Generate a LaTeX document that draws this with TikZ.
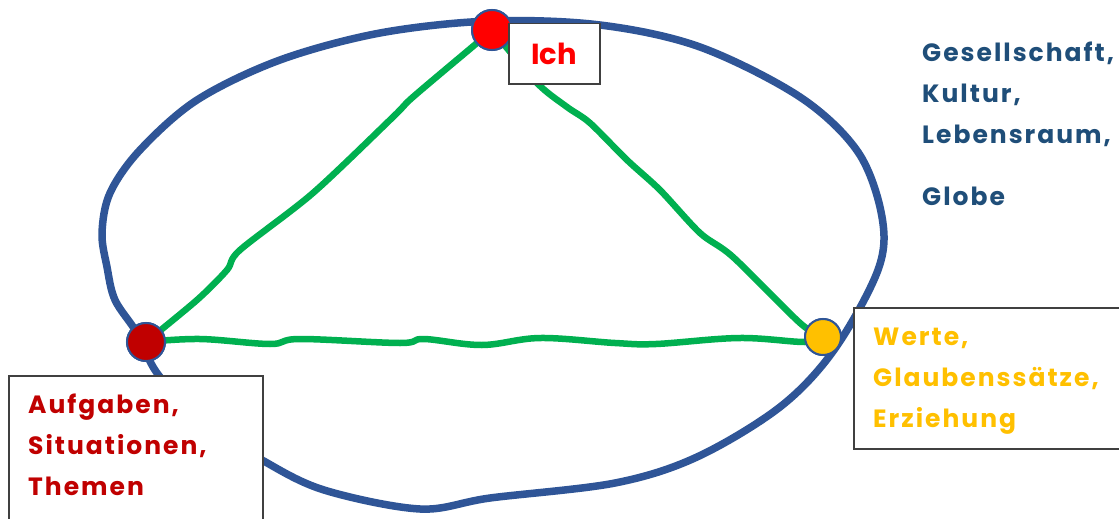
\documentclass[tikz,border=0pt]{standalone}
\usepackage{fontspec}
\setmainfont{Poppins}
\newfontfamily\spacedfont{Poppins}[LetterSpace=8]
\definecolor{ellblue}{HTML}{2F5597}
\definecolor{grn}{HTML}{00B050}
\definecolor{ichred}{HTML}{FF0000}
\definecolor{darkred}{HTML}{C00000}
\definecolor{gold}{HTML}{FFC000}
\definecolor{navy}{HTML}{1F4E79}
\definecolor{boxgray}{HTML}{404040}
\begin{document}
\begin{tikzpicture}[x=1pt,y=-1pt,
  ring/.style={draw=ellblue, line width=7.5pt, line join=round},
  link/.style={draw=grn, line width=6.5pt, line cap=round, line join=round},
  dot/.style={circle, draw=ellblue, line width=2pt, inner sep=0pt},
  labelbox/.style={draw=boxgray, line width=1.5pt, fill=white, inner sep=0pt},
  lbl/.style={font=\spacedfont\bfseries\fontsize{25}{41}\selectfont, align=left, inner sep=0pt, anchor=base west},
]
\useasboundingbox (0,0) rectangle (1119,519);
\clip (0,0) rectangle (1119,519);
\fill[white] (0,0) rectangle (1119,519);
% outer ellipse
\draw[ring] plot[smooth cycle, tension=0.55] coordinates {
  (490,21) (600,25) (700,47) (800,97) (858,152) (882,217) (878,270)
  (834,350) (780,407) (697,457) (615,483) (490,498) (420,509) (324,490) (262,460)
  (200,420) (157,373) (137,333) (115,300) (107,267) (102,233) (110,193) (140,150)
  (197,100) (280,60) (380,33)};
% corner dots (named positions)
\node[dot, fill=ichred, minimum size=40pt] (ich) at (492,30) {};
\node[dot, fill=darkred, minimum size=38pt] (auf) at (146,342) {};
\node[dot, fill=gold, minimum size=36pt] (wer) at (823,337) {};
% green links
\draw[link] plot[smooth, tension=0.5] coordinates {(auf) (197,300) (227,270) (240,250) (313,193) (393,117) (413,97) (477,43) (ich)};
\draw[link] plot[smooth, tension=0.5] coordinates {(ich) (537,83) (567,107) (590,123) (627,160) (660,190) (700,233) (733,257) (800,323) (wer)};
\draw[link] plot[smooth, tension=0.6] coordinates {(auf) (200,339) (270,344) (300,339) (400,343) (424,339) (482,345) (540,338) (615,343) (656,344) (739,338) (805,342) (wer)};
% redraw dots above links
\node[dot, fill=ichred, minimum size=40pt] at (ich) {};
\node[dot, fill=darkred, minimum size=38pt] at (auf) {};
\node[dot, fill=gold, minimum size=36pt] at (wer) {};
% boxes
\node[labelbox, anchor=north west, minimum width=91pt, minimum height=60pt,
      text=ichred, font=\bfseries\fontsize{29}{32}\selectfont] (ichbox) at (508,23) {Ich};
\node[labelbox, anchor=north west, minimum width=254pt, minimum height=170pt] (aufbox) at (8,375) {};
\node[lbl, text=darkred] (auftext) at (28,495) {Aufgaben,\\Situationen,\\Themen};
\node[labelbox, anchor=north west, minimum width=280pt, minimum height=141pt] (werbox) at (853,307) {};
\node[lbl, text=gold] (wertext) at (873,427) {Werte,\\Glaubenssätze,\\Erziehung};
\node[lbl, text=navy] (ctx) at (922,205) {Gesellschaft,\\Kultur,\\Lebensraum,\\[21pt]Globe};
\end{tikzpicture}
\end{document}
